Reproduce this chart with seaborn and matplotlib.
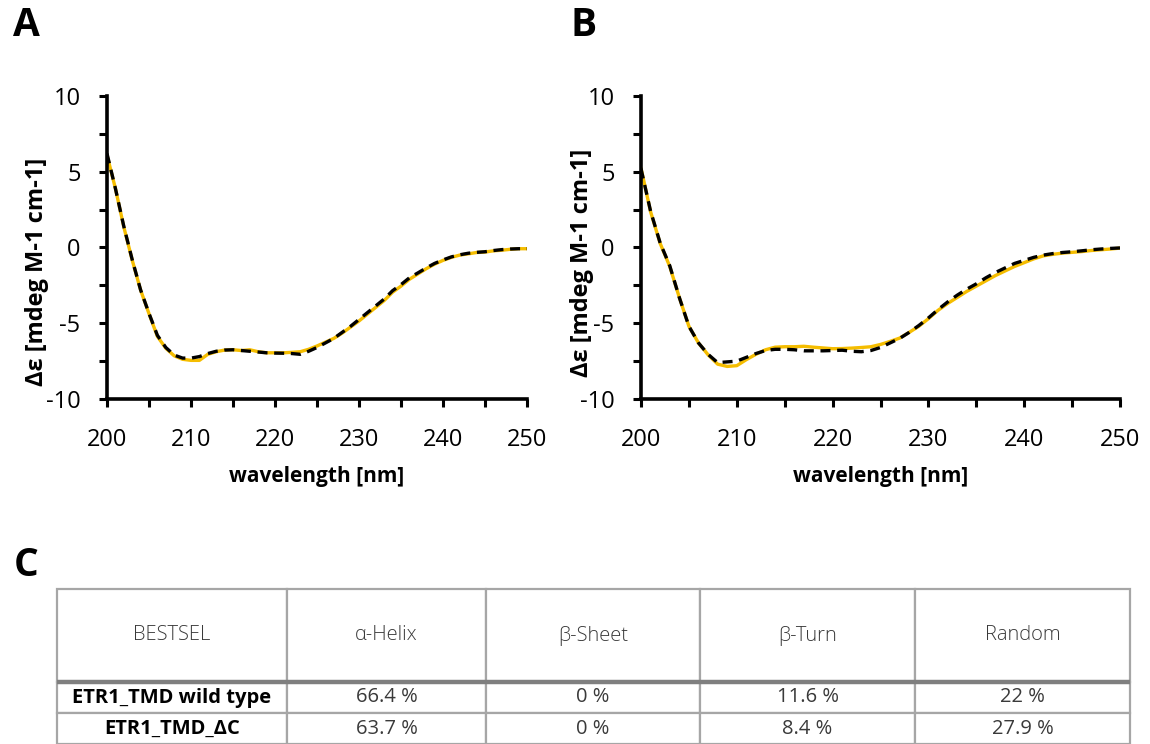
import numpy as np
import pandas as pd
import matplotlib
matplotlib.use("Agg")
import matplotlib.pyplot as plt
from matplotlib.ticker import MultipleLocator
import seaborn as sns

# ---------------- data ----------------
wavelength = list(range(200, 251))

a_measured = [6.1, 3.9, 1.36, -0.83, -2.81, -4.37, -5.87, -6.65, -7.15, -7.38,
              -7.45, -7.45, -7.05, -6.88, -6.77, -6.75, -6.8, -6.75, -6.88, -6.95,
              -6.95, -6.95, -6.92, -6.88, -6.72, -6.5, -6.25, -6.0, -5.65, -5.25,
              -4.85, -4.4, -3.95, -3.5, -2.95, -2.55, -2.1, -1.75, -1.4, -1.1,
              -0.85, -0.65, -0.5, -0.42, -0.33, -0.3, -0.22, -0.18, -0.12, -0.08,
              -0.08]
a_fit = [6.2, 3.9, 1.4, -0.8, -2.8, -4.35, -5.8, -6.6, -7.1, -7.3,
         -7.3, -7.2, -7.0, -6.85, -6.77, -6.75, -6.8, -6.85, -6.9, -6.95,
         -6.97, -6.98, -7.0, -7.05, -6.85, -6.6, -6.3, -6.0, -5.6, -5.2,
         -4.75, -4.3, -3.85, -3.4, -2.85, -2.45, -2.0, -1.68, -1.35, -1.05,
         -0.82, -0.62, -0.48, -0.38, -0.32, -0.28, -0.2, -0.14, -0.1, -0.08,
         -0.08]
b_measured = [5.24, 2.36, 0.27, -1.25, -3.3, -5.2, -6.3, -7.08, -7.7, -7.85,
              -7.8, -7.4, -7.05, -6.75, -6.58, -6.55, -6.55, -6.52, -6.58, -6.63,
              -6.68, -6.67, -6.64, -6.6, -6.55, -6.4, -6.2, -5.98, -5.6, -5.2,
              -4.7, -4.15, -3.7, -3.3, -2.9, -2.55, -2.2, -1.85, -1.55, -1.25,
              -1.0, -0.75, -0.55, -0.45, -0.37, -0.32, -0.27, -0.2, -0.15, -0.1,
              -0.04]
b_fit = [5.2, 2.4, 0.3, -1.2, -3.3, -5.2, -6.3, -7.05, -7.6, -7.55,
         -7.5, -7.25, -7.0, -6.8, -6.72, -6.72, -6.75, -6.82, -6.82, -6.82,
         -6.8, -6.78, -6.85, -6.88, -6.8, -6.6, -6.3, -6.0, -5.6, -5.15,
         -4.65, -4.1, -3.6, -3.15, -2.75, -2.4, -2.0, -1.65, -1.35, -1.05,
         -0.85, -0.65, -0.5, -0.4, -0.33, -0.28, -0.22, -0.15, -0.1, -0.06,
         -0.03]

table_columns = ["BESTSEL", "α-Helix", "β-Sheet", "β-Turn", "Random"]
table_rows = ["ETR1_TMD wild type", "ETR1_TMD_ΔC"]
helix = ["66.4 %", "63.7 %"]
sheet = ["0 %", "0 %"]
turn = ["11.6 %", "8.4 %"]
random_coil = ["22 %", "27.9 %"]

# ---------------- style ----------------
sns.set_theme(style="white")
plt.rcParams["font.family"] = ["Open Sans", "DejaVu Sans"]
plt.rcParams["axes.unicode_minus"] = False

YELLOW = "#F5BD00"
W, H = 1150, 744
fig = plt.figure(figsize=(W / 100, H / 100), dpi=100)
fig.patch.set_facecolor("white")

def px_axes(x0, y_top, x1, y_bot):
    return fig.add_axes([x0 / W, 1 - y_bot / H, (x1 - x0) / W, (y_bot - y_top) / H])

axA = px_axes(107, 96, 527, 399)
axB = px_axes(641, 96, 1120, 399)

panels = [(axA, a_measured, a_fit, -0.138, 0.42), (axB, b_measured, b_fit, -0.098, 0.45)]
for ax, meas, fit, ylab_x, ylab_y in panels:
    df = pd.DataFrame({"wavelength": wavelength, "measured": meas, "fit": fit})
    sns.lineplot(data=df, x="wavelength", y="measured", ax=ax, color=YELLOW,
                 linewidth=2.4, estimator=None, errorbar=None)
    sns.lineplot(data=df, x="wavelength", y="fit", ax=ax, color="black",
                 linewidth=2.4, estimator=None, errorbar=None)
    ax.lines[-1].set_dashes((3.0, 2.0))
    ax.set_xlim(200, 250)
    ax.set_ylim(-10, 10)
    ax.xaxis.set_major_locator(MultipleLocator(10))
    ax.xaxis.set_minor_locator(MultipleLocator(5))
    ax.yaxis.set_major_locator(MultipleLocator(5))
    ax.yaxis.set_minor_locator(MultipleLocator(2.5))
    for side in ["top", "right"]:
        ax.spines[side].set_visible(False)
    for side in ["left", "bottom"]:
        ax.spines[side].set_linewidth(2.6)
        ax.spines[side].set_color("black")
        ax.spines[side].set_capstyle("projecting")
    ax.tick_params(which="both", direction="out", length=6, width=2.2,
                   color="black", left=True, bottom=True)
    ax.tick_params(axis="x", which="major", pad=15, labelsize=17, labelcolor="black")
    ax.tick_params(axis="y", which="major", pad=13, labelsize=17, labelcolor="black")
    ax.set_xlabel("wavelength [nm]", fontsize=15, fontweight="bold", color="black")
    ax.set_ylabel("Δε [mdeg M-1 cm-1]", fontsize=17, fontweight="bold", color="black")
    ax.xaxis.set_label_coords(0.5, -0.222)
    ax.yaxis.set_label_coords(ylab_x, ylab_y)
    ax.set_facecolor("white")
    ax.grid(False)

for letter, x, y in [("A", 26, 26), ("B", 584, 26), ("C", 26, 566)]:
    fig.text(x / W, 1 - y / H, letter, ha="center", va="center",
             fontsize=28, fontweight="bold", color="black")

# ---------------- table ----------------
axT = px_axes(57, 589, 1130, 744)
axT.axis("off")
cell_text = [table_columns]
for i, name in enumerate(table_rows):
    cell_text.append([name, helix[i], sheet[i], turn[i], random_coil[i]])
col_px = [230, 199, 214, 215, 215]
col_w = [c / sum(col_px) for c in col_px]
tbl = axT.table(cellText=cell_text, cellLoc="center", colWidths=col_w,
                bbox=[0, 0, 1, 1])
tbl.auto_set_font_size(False)
row_px = [93, 31, 31]
for (r, c), cell in tbl.get_celld().items():
    cell.set_height(row_px[r] / sum(row_px))
    cell.set_edgecolor("#A6A6A6")
    cell.set_linewidth(1.6)
    txt = cell.get_text()
    txt.set_fontsize(14.5)
    if r == 0:
        txt.set_color("#3A3A3A")
        txt.set_fontweight("light")
    elif c == 0:
        txt.set_color("black")
        txt.set_fontweight("bold")
    else:
        txt.set_color("#3A3A3A")
axT.axhline(62 / 155, color="#7F7F7F", linewidth=3.2, xmin=0, xmax=1)

fig.savefig("out.png", dpi=100, facecolor="white")
